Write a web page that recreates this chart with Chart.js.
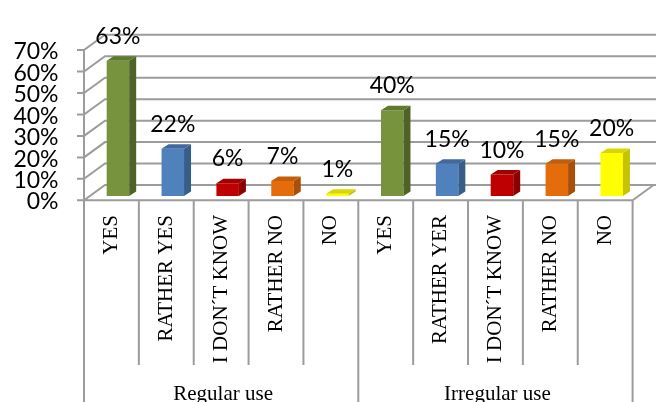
<!DOCTYPE html>
<html lang="en">
<head>
<meta charset="UTF-8">
<title>Regular and irregular use</title>
<script src="https://cdn.jsdelivr.net/npm/chart.js"></script>
<style>
  html, body { margin: 0; padding: 0; background: #ffffff; }
  #wrap { width: 656px; height: 402px; }
</style>
</head>
<body>
<div id="wrap"><canvas id="useChart" width="656" height="402"></canvas></div>
<script>
  // answers for both groups, in drawing order
  const answers = ['YES', 'RATHER YES', 'I DON\u00B4T KNOW', 'RATHER NO', 'NO',
                   'YES', 'RATHER YER', 'I DON\u00B4T KNOW', 'RATHER NO', 'NO'];
  const groups = ['Regular use', 'Irregular use'];
  const regularUse = [63, 22, 6, 7, 1];
  const irregularUse = [40, 15, 10, 15, 20];
  const yTicks = [0, 10, 20, 30, 40, 50, 60, 70];

  const frontColors = ['#77933C', '#4F81BD', '#C00000', '#E46C0A', '#FFFF00'];
  const sideColors  = ['#4F6228', '#385D8A', '#8C0000', '#A8500A', '#C4C400'];
  const topColors   = ['#5E7A2E', '#41699B', '#A30000', '#C45C08', '#D8D800'];

  const gridGray = '#9C9C9C';
  const sansFont = 'Lato, Carlito, Calibri, sans-serif';
  const serifFont = '"Liberation Serif", "Times New Roman", serif';

  // 3d look: offsets of front edge, back wall and bar depth
  const FRONT_X = -6.5, FRONT_Y = 4.3;
  const WALL_X = 21, BACK_Y = -11;
  const BAR_DX = 7, BAR_DY = -4.5;

  const values = regularUse.concat(irregularUse);
  const fills = frontColors.concat(frontColors);

  const box3d = {
    id: 'box3d',
    beforeDatasetsDraw(chart) {
      const ctx = chart.ctx;
      const x = chart.scales.x, y = chart.scales.y;
      const cw = x.getPixelForValue(1) - x.getPixelForValue(0);
      const fl = chart.chartArea.left + FRONT_X;
      const fr = fl + cw * answers.length;
      const bl = fl + WALL_X;
      const floorY = y.getPixelForValue(0) + FRONT_Y;
      ctx.save();
      ctx.strokeStyle = gridGray;
      ctx.lineWidth = 2;
      ctx.beginPath();
      for (const v of yTicks) {
        const p = y.getPixelForValue(v);
        ctx.moveTo(fl - 7, p + FRONT_Y);
        ctx.lineTo(fl, p + FRONT_Y);
        ctx.lineTo(bl, p + BACK_Y);
        ctx.lineTo(chart.width, p + BACK_Y);
      }
      // floor front edge + right side
      ctx.moveTo(fl, floorY);
      ctx.lineTo(fr, floorY);
      ctx.lineTo(fr + WALL_X, floorY - FRONT_Y + BACK_Y);
      // left axis
      ctx.moveTo(fl, y.getPixelForValue(70) + FRONT_Y);
      ctx.lineTo(fl, chart.height);
      // separators under the floor
      for (let i = 1; i <= answers.length; i++) {
        const sx = fl + i * cw;
        ctx.moveTo(sx, floorY);
        ctx.lineTo(sx, i % 5 === 0 ? chart.height : 365);
      }
      ctx.stroke();
      ctx.restore();
    },
    afterDatasetsDraw(chart) {
      const ctx = chart.ctx;
      const meta = chart.getDatasetMeta(0);
      ctx.save();
      meta.data.forEach((bar, i) => {
        const half = bar.width / 2;
        const l = bar.x - half, r = bar.x + half;
        const c = i % 5;
        ctx.fillStyle = sideColors[c];
        ctx.beginPath();
        ctx.moveTo(r, bar.y);
        ctx.lineTo(r + BAR_DX, bar.y + BAR_DY);
        ctx.lineTo(r + BAR_DX, bar.base + BAR_DY);
        ctx.lineTo(r, bar.base);
        ctx.closePath();
        ctx.fill();
        ctx.fillStyle = topColors[c];
        ctx.beginPath();
        ctx.moveTo(l, bar.y);
        ctx.lineTo(l + BAR_DX, bar.y + BAR_DY);
        ctx.lineTo(r + BAR_DX, bar.y + BAR_DY);
        ctx.lineTo(r, bar.y);
        ctx.closePath();
        ctx.fill();
      });
      // value labels
      ctx.fillStyle = '#000000';
      ctx.font = '400 23px ' + sansFont;
      ctx.textAlign = 'center';
      ctx.textBaseline = 'alphabetic';
      meta.data.forEach((bar, i) => {
        ctx.fillText(values[i] + '%', bar.x, bar.y - 17);
      });
      // group labels
      const x = chart.scales.x;
      ctx.font = '400 21px ' + serifFont;
      groups.forEach((g, k) => {
        const gx = (x.getPixelForValue(k * 5) + x.getPixelForValue(k * 5 + 4)) / 2 + FRONT_X;
        ctx.fillText(g, gx + 2, 400);
      });
      ctx.restore();
    }
  };

  new Chart(document.getElementById('useChart'), {
    type: 'bar',
    data: {
      labels: answers,
      datasets: [{
        data: values,
        backgroundColor: fills,
        borderWidth: 0,
        barPercentage: 0.41,
        categoryPercentage: 1
      }]
    },
    options: {
      responsive: false,
      animation: false,
      layout: { padding: { top: 35, right: 2.5, left: 0, bottom: 0 } },
      plugins: { legend: { display: false }, tooltip: { enabled: false } },
      scales: {
        x: {
          grid: { display: false, drawTicks: false },
          border: { display: false },
          afterFit: s => { s.height = 206; },
          ticks: {
            autoSkip: false,
            minRotation: 90,
            maxRotation: 90,
            padding: 19,
            labelOffset: FRONT_X,
            color: '#000000',
            font: { family: serifFont, size: 21, weight: 400 }
          }
        },
        y: {
          min: 0,
          max: 70,
          grid: { display: false, drawTicks: false },
          border: { display: false },
          afterFit: s => { s.width = 90.5; },
          ticks: {
            autoSkip: false,
            stepSize: 10,
            padding: 32,
            labelOffset: 6,
            color: '#000000',
            font: { family: sansFont, size: 23, weight: 400 },
            callback: v => v + '%'
          }
        }
      }
    },
    plugins: [box3d]
  });
</script>
</body>
</html>
